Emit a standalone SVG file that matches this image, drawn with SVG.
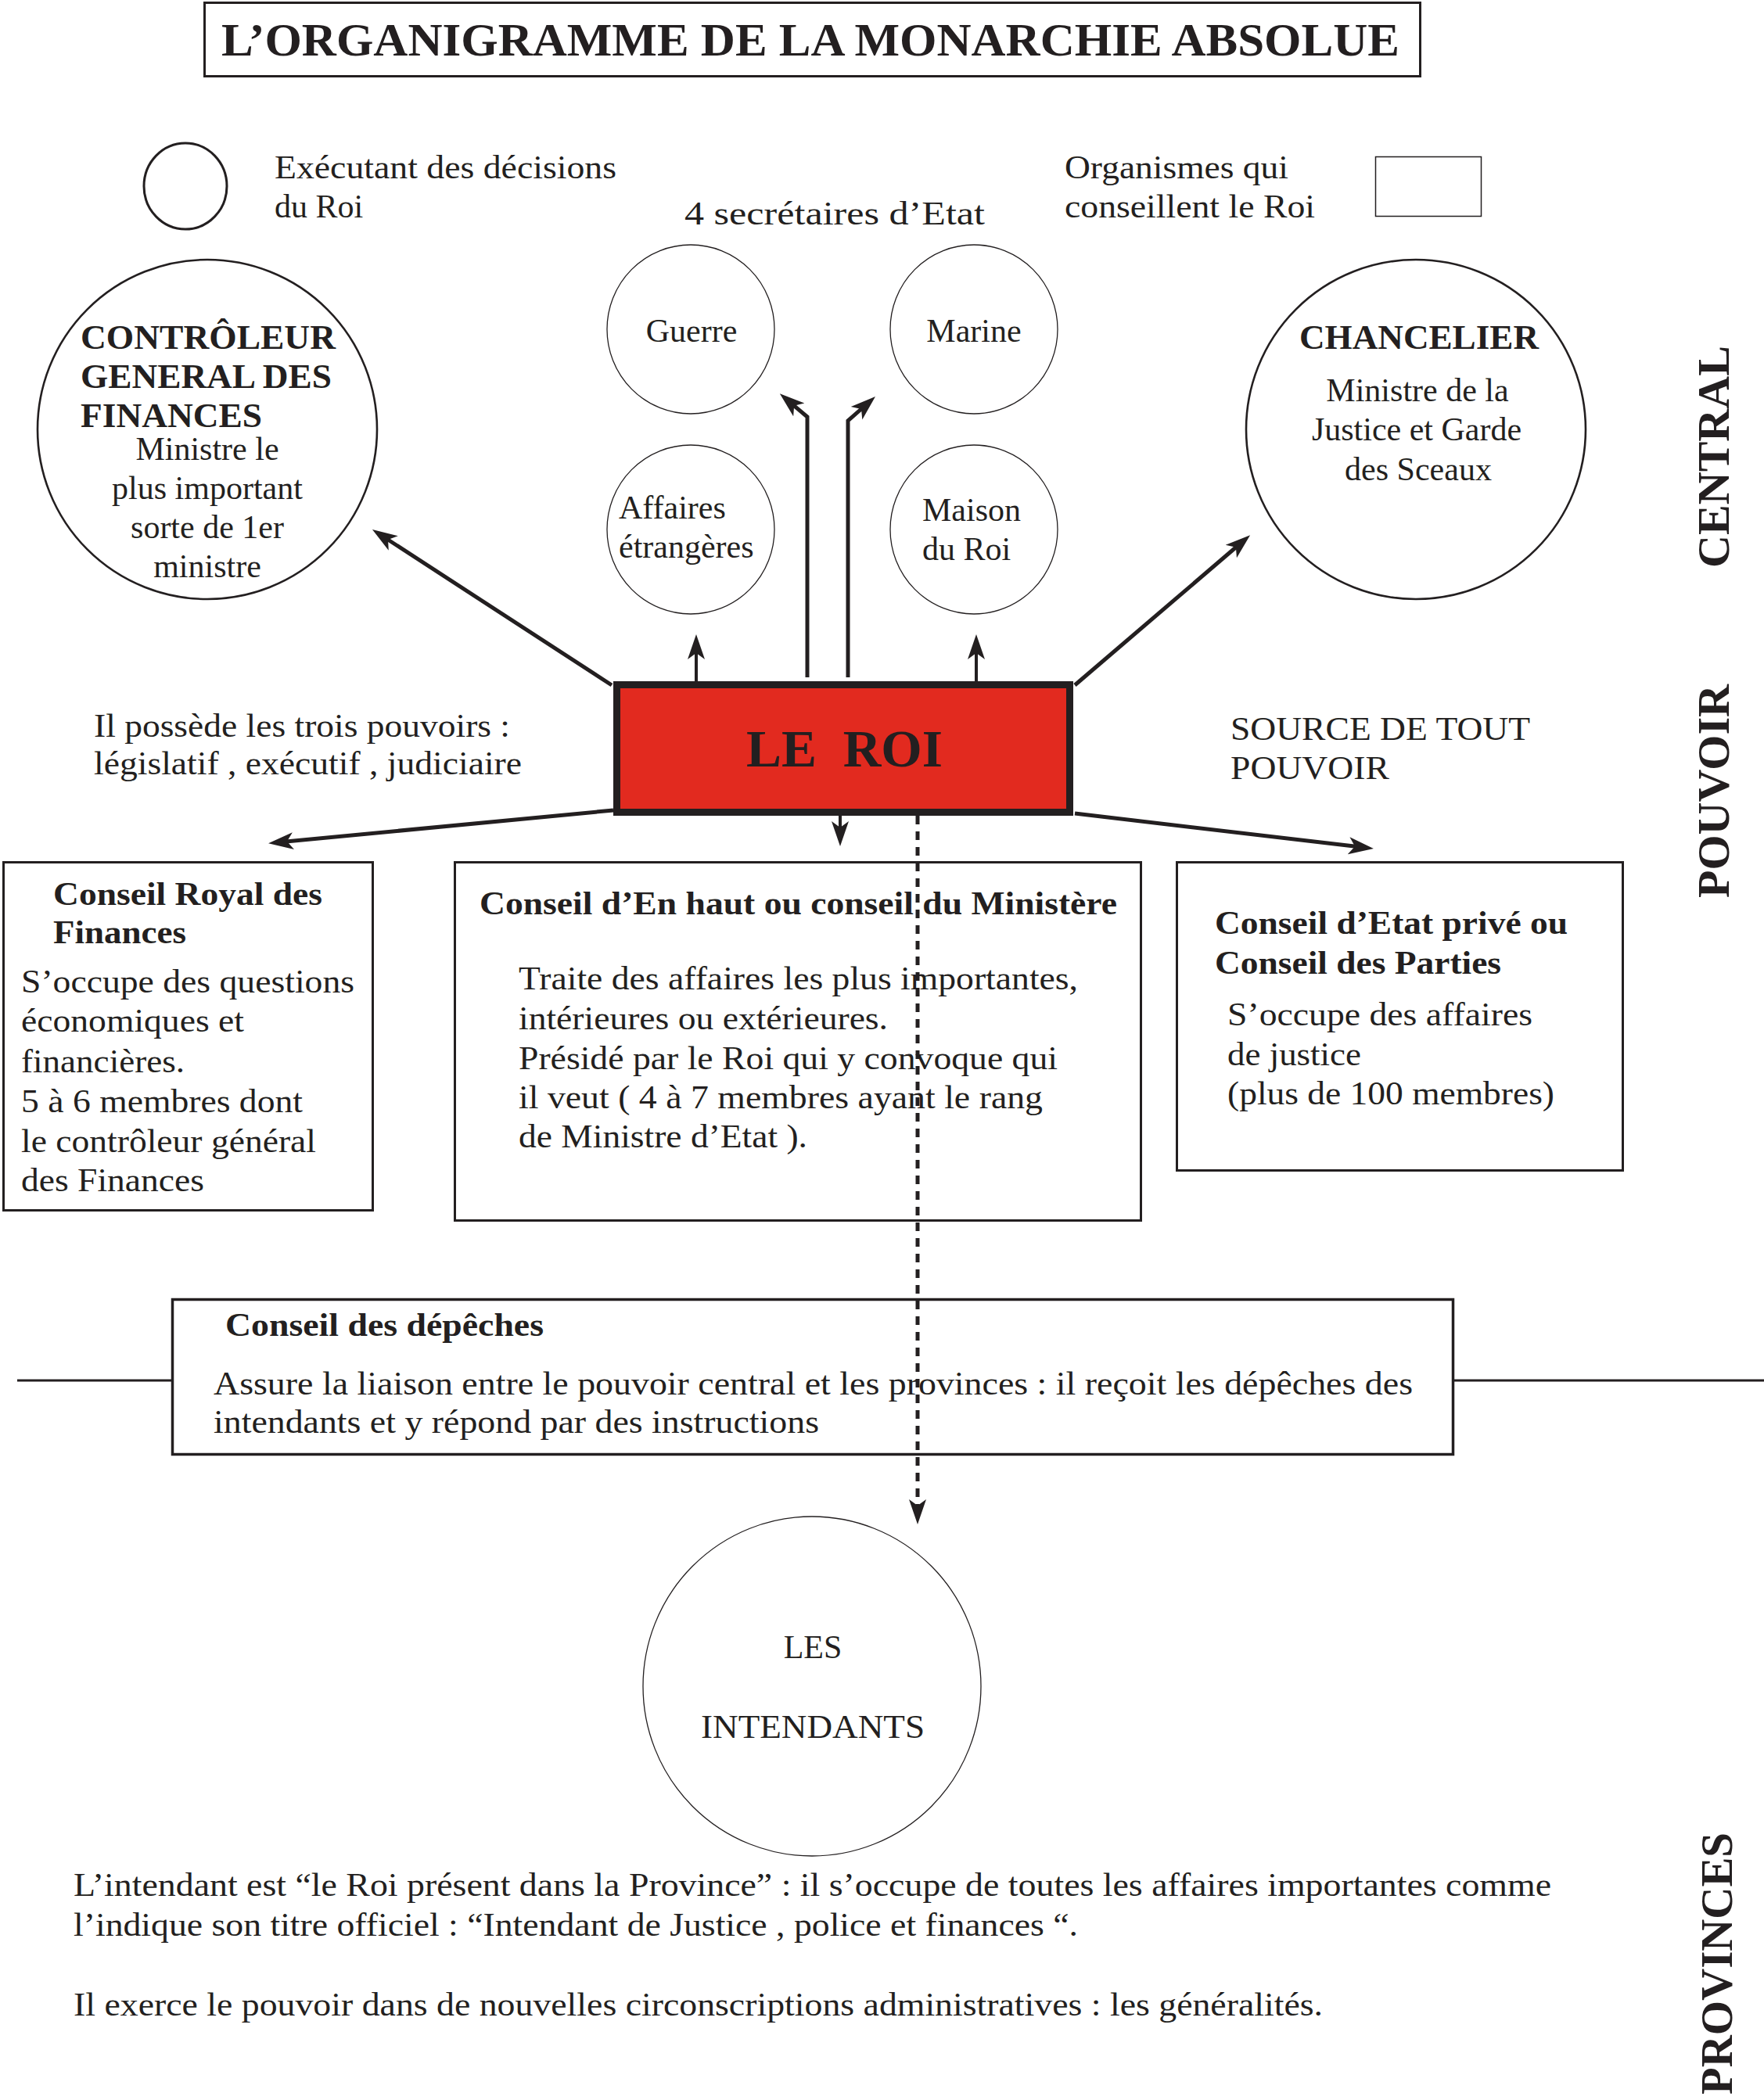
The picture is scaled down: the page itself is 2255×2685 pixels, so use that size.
<svg xmlns="http://www.w3.org/2000/svg" width="2255" height="2685" viewBox="0 0 2255 2685">
<style>
.t{font-family:"Liberation Serif","Times New Roman",serif;font-size:42px;fill:#231f20}
.b{font-weight:bold}
.c{text-anchor:middle}
.bx{fill:#fff;stroke:#231f20;stroke-width:3}
.el{fill:#fff;stroke:#231f20;stroke-width:1.3}
.elb{fill:#fff;stroke:#231f20;stroke-width:2.6}
.ln{fill:none;stroke:#231f20;stroke-width:5;marker-end:url(#ah)}
.vt{font-family:"Liberation Serif","Times New Roman",serif;font-size:58px;font-weight:bold;fill:#231f20}
</style>
<defs>
<marker id="ah" viewBox="0 0 32 24" refX="20" refY="12" markerWidth="32" markerHeight="24" markerUnits="userSpaceOnUse" orient="auto">
<path d="M0,1 L32,12 L0,23 L8,12 Z" fill="#231f20"/>
</marker>
</defs>
<rect width="2255" height="2685" fill="#fff"/>

<g id="title">
<rect x="261.5" y="3.5" width="1554" height="94" class="bx"/>
<text x="283" y="71" class="t b" style="font-size:60px" textLength="1506" lengthAdjust="spacingAndGlyphs">L’ORGANIGRAMME DE LA MONARCHIE ABSOLUE</text>
</g>

<g id="legend-executant">
<ellipse cx="237" cy="238" rx="53" ry="55" fill="#fff" stroke="#231f20" stroke-width="3"/>
<text x="351" y="228" class="t" textLength="437" lengthAdjust="spacingAndGlyphs">Exécutant des décisions</text>
<text x="351" y="278" class="t">du Roi</text>
</g>
<g id="legend-secretaires">
<text x="875" y="287" class="t" textLength="384" lengthAdjust="spacingAndGlyphs">4 secrétaires d’Etat</text>
</g>
<g id="legend-organismes">
<text x="1361" y="228" class="t" textLength="286" lengthAdjust="spacingAndGlyphs">Organismes qui</text>
<text x="1361" y="278" class="t" textLength="320" lengthAdjust="spacingAndGlyphs">conseillent le Roi</text>
<rect x="1758.5" y="200.5" width="135" height="76" fill="#fff" stroke="#231f20" stroke-width="1.5"/>
</g>

<g id="controleur">
<ellipse cx="265" cy="549" rx="217" ry="217" class="elb"/>
<text x="103" y="446" class="t b" style="font-size:45px" textLength="326" lengthAdjust="spacingAndGlyphs">CONTRÔLEUR</text>
<text x="103" y="496" class="t b" style="font-size:45px" textLength="321" lengthAdjust="spacingAndGlyphs">GENERAL DES</text>
<text x="103" y="546" class="t b" style="font-size:45px" textLength="232" lengthAdjust="spacingAndGlyphs">FINANCES</text>
<text x="265" y="588" class="t c">Ministre le</text>
<text x="265" y="638" class="t c">plus important</text>
<text x="265" y="688" class="t c">sorte de 1er</text>
<text x="265" y="738" class="t c">ministre</text>
</g>

<g id="guerre">
<ellipse cx="883" cy="421" rx="107" ry="108" class="el"/>
<text x="884" y="437" class="t c">Guerre</text>
</g>
<g id="affaires">
<ellipse cx="883" cy="677" rx="107" ry="108" class="el"/>
<text x="791" y="663" class="t">Affaires</text>
<text x="791" y="713" class="t">étrangères</text>
</g>
<g id="marine">
<ellipse cx="1245" cy="421" rx="107" ry="108" class="el"/>
<text x="1245" y="437" class="t c">Marine</text>
</g>
<g id="maison">
<ellipse cx="1245" cy="677" rx="107" ry="108" class="el"/>
<text x="1179" y="666" class="t">Maison</text>
<text x="1179" y="716" class="t">du Roi</text>
</g>

<g id="chancelier">
<ellipse cx="1810" cy="549" rx="217" ry="217" class="elb"/>
<text x="1814" y="446" class="t b c" style="font-size:45px" textLength="306" lengthAdjust="spacingAndGlyphs">CHANCELIER</text>
<text x="1812" y="513" class="t c">Ministre de la</text>
<text x="1811" y="563" class="t c">Justice et Garde</text>
<text x="1813" y="614" class="t c">des Sceaux</text>
</g>

<g id="roi">
<rect x="788.5" y="875.5" width="579" height="163" fill="#e22a1f" stroke="#231f20" stroke-width="9"/>
<text x="954" y="980" class="t b" style="font-size:68px" xml:space="preserve" textLength="251" lengthAdjust="spacingAndGlyphs">LE  ROI</text>
</g>

<g id="note-pouvoirs">
<text x="120" y="942" class="t" textLength="532" lengthAdjust="spacingAndGlyphs">Il possède les trois pouvoirs :</text>
<text x="120" y="990" class="t" textLength="547" lengthAdjust="spacingAndGlyphs">législatif , exécutif , judiciaire</text>
</g>
<g id="note-source">
<text x="1573" y="946" class="t" textLength="383" lengthAdjust="spacingAndGlyphs">SOURCE DE TOUT</text>
<text x="1573" y="996" class="t" textLength="203" lengthAdjust="spacingAndGlyphs">POUVOIR</text>
</g>

<g id="conseil-royal">
<rect x="4.5" y="1102.5" width="472" height="445" class="bx"/>
<text x="68" y="1157" class="t b" textLength="344" lengthAdjust="spacingAndGlyphs">Conseil Royal des</text>
<text x="68" y="1206" class="t b" textLength="170" lengthAdjust="spacingAndGlyphs">Finances</text>
<text x="27" y="1269" class="t" textLength="426" lengthAdjust="spacingAndGlyphs">S’occupe des questions</text>
<text x="27" y="1319" class="t" textLength="285" lengthAdjust="spacingAndGlyphs">économiques et</text>
<text x="27" y="1371" class="t" textLength="209" lengthAdjust="spacingAndGlyphs">financières.</text>
<text x="27" y="1422" class="t" textLength="360" lengthAdjust="spacingAndGlyphs">5 à 6 membres dont</text>
<text x="27" y="1473" class="t" textLength="377" lengthAdjust="spacingAndGlyphs">le contrôleur général</text>
<text x="27" y="1523" class="t" textLength="234" lengthAdjust="spacingAndGlyphs">des Finances</text>
</g>

<g id="conseil-en-haut">
<rect x="581.5" y="1102.5" width="877" height="458" class="bx"/>
<text x="613" y="1169" class="t b" textLength="815" lengthAdjust="spacingAndGlyphs">Conseil d’En haut ou conseil du Ministère</text>
<text x="663" y="1265" class="t" textLength="715" lengthAdjust="spacingAndGlyphs">Traite des affaires les plus importantes,</text>
<text x="663" y="1316" class="t" textLength="472" lengthAdjust="spacingAndGlyphs">intérieures ou extérieures.</text>
<text x="663" y="1367" class="t" textLength="689" lengthAdjust="spacingAndGlyphs">Présidé par le Roi qui y convoque qui</text>
<text x="663" y="1417" class="t" textLength="670" lengthAdjust="spacingAndGlyphs">il veut ( 4 à 7 membres ayant le rang</text>
<text x="663" y="1467" class="t" textLength="369" lengthAdjust="spacingAndGlyphs">de Ministre d’Etat ).</text>
</g>

<g id="conseil-etat-prive">
<rect x="1504.5" y="1102.5" width="570" height="394" class="bx"/>
<text x="1553" y="1194" class="t b" textLength="451" lengthAdjust="spacingAndGlyphs">Conseil d’Etat privé ou</text>
<text x="1553" y="1245" class="t b" textLength="366" lengthAdjust="spacingAndGlyphs">Conseil des Parties</text>
<text x="1569" y="1311" class="t" textLength="390" lengthAdjust="spacingAndGlyphs">S’occupe des affaires</text>
<text x="1569" y="1362" class="t" textLength="171" lengthAdjust="spacingAndGlyphs">de justice</text>
<text x="1569" y="1412" class="t" textLength="418" lengthAdjust="spacingAndGlyphs">(plus de 100 membres)</text>
</g>

<g id="conseil-depeches">
<rect x="220.5" y="1661.5" width="1637" height="198" fill="#fff" stroke="#231f20" stroke-width="3.5"/>
<text x="288" y="1708" class="t b" textLength="407" lengthAdjust="spacingAndGlyphs">Conseil des dépêches</text>
<text x="273" y="1783" class="t" textLength="1533" lengthAdjust="spacingAndGlyphs">Assure la liaison entre le pouvoir central et les provinces : il reçoit les dépêches des</text>
<text x="273" y="1832" class="t" textLength="774" lengthAdjust="spacingAndGlyphs">intendants et y répond par des instructions</text>
</g>

<g id="intendants">
<ellipse cx="1038" cy="2156" rx="216" ry="217" class="el"/>
<text x="1039" y="2120" class="t c">LES</text>
<text x="1039" y="2222" class="t c" textLength="286" lengthAdjust="spacingAndGlyphs">INTENDANTS</text>
</g>

<g id="connectors">
<line x1="782" y1="876" x2="486" y2="683.5" class="ln"/>
<line x1="890" y1="871" x2="890" y2="823" class="ln" style="stroke-width:4"/>
<polyline points="1032,866 1032,533 1006,511" class="ln"/>
<polyline points="1084,866 1084,538 1110,515" class="ln"/>
<line x1="1248" y1="871" x2="1248" y2="823" class="ln" style="stroke-width:4"/>
<line x1="1374" y1="876" x2="1589" y2="692" class="ln"/>
<line x1="784" y1="1036" x2="355" y2="1077" class="ln"/>
<line x1="1074" y1="1043" x2="1074" y2="1070" class="ln" style="stroke-width:4"/>
<line x1="1374" y1="1040" x2="1744" y2="1083.6" class="ln"/>
<line x1="1173" y1="1043" x2="1173" y2="1937" class="ln" style="stroke-dasharray:11 9"/>
<line x1="22" y1="1765" x2="221" y2="1765" stroke="#231f20" stroke-width="3"/>
<line x1="1857" y1="1765" x2="2255" y2="1765" stroke="#231f20" stroke-width="3"/>
</g>

<g id="note-intendant">
<text x="94" y="2424" class="t" textLength="1889" lengthAdjust="spacingAndGlyphs">L’intendant est “le Roi présent dans la Province” : il s’occupe de toutes les affaires importantes comme</text>
<text x="94" y="2475" class="t" textLength="1284" lengthAdjust="spacingAndGlyphs">l’indique son titre officiel : “Intendant de Justice , police et finances “.</text>
<text x="94" y="2577" class="t" textLength="1597" lengthAdjust="spacingAndGlyphs">Il exerce le pouvoir dans de nouvelles circonscriptions administratives : les généralités.</text>
</g>

<g id="side-labels">
<text transform="translate(2210,726) rotate(-90)" class="vt" textLength="284" lengthAdjust="spacingAndGlyphs">CENTRAL</text>
<text transform="translate(2210,1148) rotate(-90)" class="vt" textLength="273" lengthAdjust="spacingAndGlyphs">POUVOIR</text>
<text transform="translate(2214,2678) rotate(-90)" class="vt" textLength="335" lengthAdjust="spacingAndGlyphs">PROVINCES</text>
</g>
</svg>
